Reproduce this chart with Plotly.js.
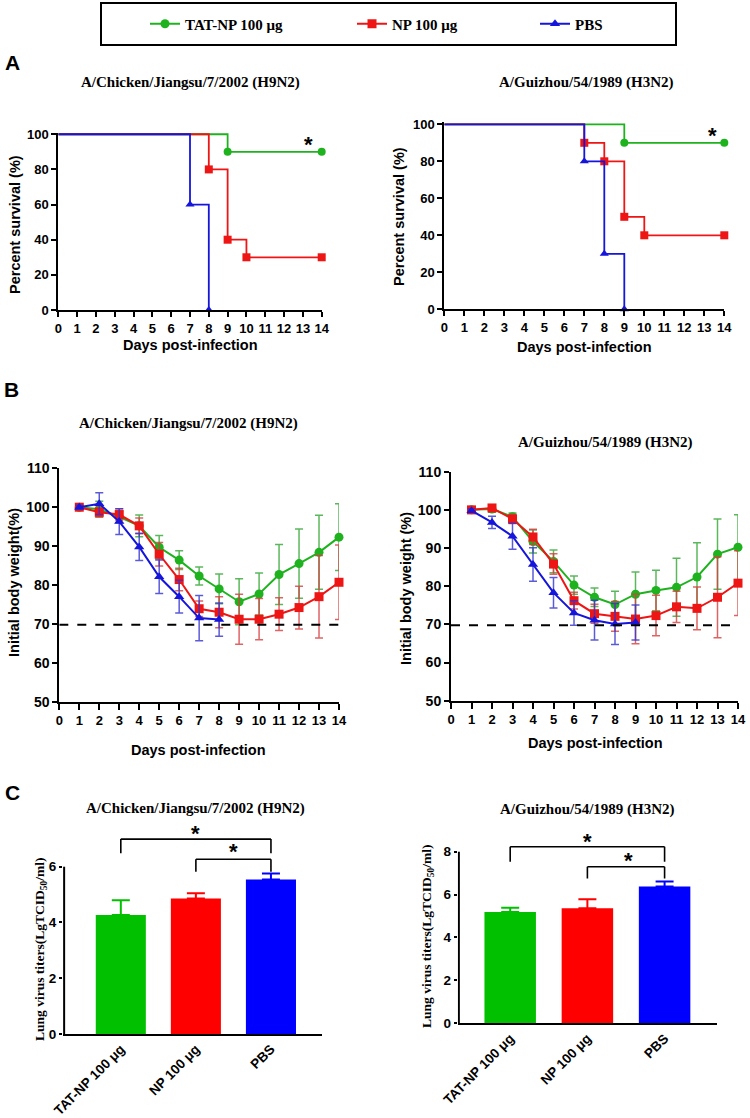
<!DOCTYPE html>
<html>
<head>
<meta charset="utf-8">
<script src="https://cdn.plot.ly/plotly-3.0.1.min.js"></script>
<style>html,body{margin:0;padding:0;background:#fff}</style>
</head>
<body>
<div id="chart" style="width:750px;height:1118px"></div>
<script>
const W = 750, H = 1118;
const px = v => v / W;
const py = v => 1 - v / H;

const groupNames = ['TAT-NP 100 μg', 'NP 100 μg', 'PBS'];
const lineColors = ['#1fb21f', '#ee1515', '#1515dc'];
const errorColors = ['rgba(50,165,50,0.8)', 'rgba(215,60,60,0.8)', 'rgba(50,50,205,0.8)'];
const barColors = ['#00c000', '#ff0000', '#0000ff'];
const symbols = ['circle', 'square', 'triangle-up'];

// Panel A: survival (step points), H9N2
const tatSurvDaysH9 = [0, 9, 14];
const tatSurvH9 = [100, 90, 90];
const npSurvDaysH9 = [0, 8, 9, 10, 14];
const npSurvH9 = [100, 80, 40, 30, 30];
const pbsSurvDaysH9 = [0, 7, 8];
const pbsSurvH9 = [100, 60, 0];

// Panel A: survival, H3N2
const tatSurvDaysH3 = [0, 9, 14];
const tatSurvH3 = [100, 90, 90];
const npSurvDaysH3 = [0, 7, 8, 9, 10, 14];
const npSurvH3 = [100, 90, 80, 50, 40, 40];
const pbsSurvDaysH3 = [0, 7, 8, 9];
const pbsSurvH3 = [100, 80, 30, 0];

// Panel B: body weight (% of initial), mean and SD
const weightDays = [1, 2, 3, 4, 5, 6, 7, 8, 9, 10, 11, 12, 13, 14];
const tatWeightH9 = [100, 99.5, 97.5, 95.2, 89.7, 86.4, 82.3, 79.0, 75.7, 77.7, 82.7, 85.5, 88.4, 92.3];
const tatSdH9 = [0.5, 2.0, 1.5, 2.8, 3.0, 2.4, 2.3, 3.8, 5.9, 5.4, 7.7, 8.9, 9.5, 8.6];
const npWeightH9 = [100, 98.7, 98.1, 95.2, 87.9, 81.4, 73.9, 73.0, 71.2, 71.2, 72.5, 74.2, 77.0, 80.7];
const npSdH9 = [0.5, 1.2, 1.5, 2.0, 3.0, 2.9, 2.0, 4.0, 6.4, 5.3, 4.2, 5.5, 10.6, 9.6];
const pbsWeightH9 = [100, 100.9, 96.3, 89.8, 82.1, 77.0, 71.5, 71.1];
const pbsSdH9 = [0.5, 2.8, 3.3, 3.5, 4.3, 4.2, 5.8, 4.3];

const tatWeightH3 = [100, 100.2, 98.2, 91.7, 86.5, 80.3, 77.1, 75.2, 77.9, 78.9, 79.7, 82.4, 88.4, 90.2];
const tatSdH3 = [0.5, 0.8, 1.0, 3.0, 3.0, 2.4, 2.4, 3.5, 5.8, 5.3, 7.6, 9.0, 9.2, 8.5];
const npWeightH3 = [100, 100.5, 97.6, 92.9, 85.8, 76.2, 72.8, 72.1, 71.4, 72.3, 74.6, 74.2, 77.1, 80.8];
const npSdH3 = [0.5, 0.8, 1.2, 2.0, 2.7, 2.2, 2.5, 3.9, 6.5, 5.3, 4.1, 5.6, 10.6, 8.5];
const pbsWeightH3 = [99.8, 96.7, 93.1, 85.7, 78.3, 73.0, 71.1, 70.1, 70.5];
const pbsSdH3 = [0.5, 1.6, 3.4, 4.4, 4.0, 3.2, 5.2, 5.4, 4.6];

const weightThreshold = 69.8;

// Panel C: lung virus titers
const titerH9 = [4.27, 4.86, 5.54];
const titerSdH9 = [0.53, 0.19, 0.22];
const titerH3 = [5.19, 5.36, 6.38];
const titerSdH3 = [0.20, 0.42, 0.23];

const dayTicks = [0, 1, 2, 3, 4, 5, 6, 7, 8, 9, 10, 11, 12, 13, 14];

function survival(days, vals, g, xa, ya) {
  return [
    {
      x: days, y: vals, xaxis: xa, yaxis: ya, type: 'scatter', mode: 'lines',
      line: { shape: 'hv', color: lineColors[g], width: 1.8 },
      showlegend: false, hoverinfo: 'skip'
    },
    {
      x: days.slice(1), y: vals.slice(1), xaxis: xa, yaxis: ya, type: 'scatter', mode: 'markers',
      marker: { symbol: symbols[g], size: 8, color: lineColors[g] },
      showlegend: false, cliponaxis: false
    }
  ];
}

function weight(vals, sd, g, xa, ya, legendId) {
  const t = {
    x: weightDays.slice(0, vals.length), y: vals, xaxis: xa, yaxis: ya,
    type: 'scatter', mode: 'lines+markers', name: groupNames[g],
    line: { color: lineColors[g], width: 2 },
    marker: { symbol: symbols[g], size: 9, color: lineColors[g] },
    error_y: { type: 'data', array: sd, color: errorColors[g], thickness: 1.5, width: 4 },
    cliponaxis: false, showlegend: !!legendId
  };
  if (legendId) t.legend = legendId;
  return t;
}

function bars(vals, sd, xa, ya) {
  return vals.map((v, i) => ({
    x: [groupNames[i]], y: [v], xaxis: xa, yaxis: ya, type: 'bar', width: 0.667,
    marker: { color: barColors[i], line: { width: 0 } },
    error_y: { type: 'data', symmetric: false, array: [sd[i]], arrayminus: [0], color: barColors[i], thickness: 2, width: 9 },
    showlegend: false
  }));
}

const traces = [
  ...survival(tatSurvDaysH9, tatSurvH9, 0, 'x', 'y'),
  ...survival(npSurvDaysH9, npSurvH9, 1, 'x', 'y'),
  ...survival(pbsSurvDaysH9, pbsSurvH9, 2, 'x', 'y'),
  ...survival(tatSurvDaysH3, tatSurvH3, 0, 'x2', 'y2'),
  ...survival(npSurvDaysH3, npSurvH3, 1, 'x2', 'y2'),
  ...survival(pbsSurvDaysH3, pbsSurvH3, 2, 'x2', 'y2'),
  weight(tatWeightH9, tatSdH9, 0, 'x3', 'y3', 'legend'),
  weight(npWeightH9, npSdH9, 1, 'x3', 'y3', 'legend2'),
  weight(pbsWeightH9, pbsSdH9, 2, 'x3', 'y3', 'legend3'),
  weight(tatWeightH3, tatSdH3, 0, 'x4', 'y4'),
  weight(npWeightH3, npSdH3, 1, 'x4', 'y4'),
  weight(pbsWeightH3, pbsSdH3, 2, 'x4', 'y4'),
  ...bars(titerH9, titerSdH9, 'x5', 'y5'),
  ...bars(titerH3, titerSdH3, 'x6', 'y6')
];

const sans = 'Liberation Sans, Arial, sans-serif';
const serif = 'Liberation Serif, Times New Roman, serif';
const tickFont = { family: sans, size: 13, weight: 'bold', color: '#000' };

function axis(extra) {
  return Object.assign({
    showgrid: false, zeroline: false, showline: true, linecolor: '#000', linewidth: 2,
    ticks: 'outside', ticklen: 5, tickwidth: 2, tickcolor: '#000',
    tickfont: tickFont, fixedrange: true, automargin: false
  }, extra);
}

const bigTick = Object.assign({}, tickFont, { size: 14 });
const barTick = Object.assign({}, tickFont, { size: 13.5 });

function label(text, x, y, font, extra) {
  return Object.assign({
    xref: 'paper', yref: 'paper', x: px(x), y: py(y), text: text, showarrow: false,
    xanchor: 'center', yanchor: 'middle', font: font
  }, extra || {});
}

const letterFont = { family: sans, size: 21, weight: 'bold', color: '#000' };
const titleFont = { family: serif, size: 15, weight: 'bold', color: '#000' };
const axTitleFont = { family: sans, size: 14.5, weight: 'bold', color: '#000' };
const cTitleFont = { family: serif, size: 13.5, weight: 'bold', color: '#000' };
const starFont = { family: sans, size: 22, weight: 'bold', color: '#000' };

const strainH9 = 'A/Chicken/Jiangsu/7/2002 (H9N2)';
const strainH3 = 'A/Guizhou/54/1989 (H3N2)';
const titerTitle = 'Lung virus titers(LgTCID<sub>50</sub>/ml)';

function star(xa, ya, x, y) {
  return { xref: xa, yref: ya, x: x, y: y, text: '*', showarrow: false, font: starFont, yshift: -5 };
}

const annotations = [
  label('A', 12, 62, letterFont),
  label('B', 11, 390, letterFont),
  label('C', 12, 792, letterFont),
  label(strainH9, 190, 82, titleFont),
  label(strainH3, 586, 82, titleFont),
  label(strainH9, 188, 423, titleFont),
  label(strainH3, 605, 442, titleFont),
  label(strainH9, 196, 808, titleFont),
  label(strainH3, 587, 809, titleFont),
  label('Days post-infection', 190, 345, axTitleFont),
  label('Days post-infection', 584, 347, axTitleFont),
  label('Days post-infection', 198, 750, axTitleFont),
  label('Days post-infection', 595, 743, axTitleFont),
  label('Percent survival (%)', 15, 225, axTitleFont, { textangle: -90 }),
  label('Percent survival (%)', 399, 217, axTitleFont, { textangle: -90 }),
  label('Initial body weight(%)', 14, 583, axTitleFont, { textangle: -90 }),
  label('Initial body weight (%)', 406, 589, axTitleFont, { textangle: -90 }),
  label(titerTitle, 40, 950, cTitleFont, { textangle: -90 }),
  label(titerTitle, 427, 937, cTitleFont, { textangle: -90 }),
  star('x', 'y', 13.3, 96.8),
  star('x2', 'y2', 13.4, 96.9),
  star('x5', 'y5', 1.0, 7.37),
  star('x5', 'y5', 1.5, 6.71),
  star('x6', 'y6', 1.0, 8.73),
  star('x6', 'y6', 1.53, 7.8)
];

function seg(xa, ya, x0, y0, x1, y1) {
  return { type: 'line', xref: xa, yref: ya, x0: x0, y0: y0, x1: x1, y1: y1, line: { color: '#000', width: 1.6 } };
}
function bracket(xa, ya, a, b, top, legA, legB) {
  return [seg(xa, ya, a, legA, a, top), seg(xa, ya, a, top, b, top), seg(xa, ya, b, top, b, legB)];
}

const shapes = [
  { type: 'rect', xref: 'paper', yref: 'paper', x0: px(101), x1: px(676), y0: py(45), y1: py(3), line: { color: '#000', width: 2 } },
  { type: 'line', xref: 'x3', yref: 'y3', x0: 0, x1: 14, y0: weightThreshold, y1: weightThreshold, line: { color: '#000', width: 2, dash: 'dash' } },
  { type: 'line', xref: 'x4', yref: 'y4', x0: 0, x1: 14, y0: weightThreshold, y1: weightThreshold, line: { color: '#000', width: 2, dash: 'dash' } },
  { type: 'line', xref: 'x5', yref: 'y5', x0: -0.755, x1: -0.755, y0: 0, y1: 6, line: { color: '#000', width: 2 } },
  { type: 'line', xref: 'x6', yref: 'y6', x0: -0.665, x1: -0.665, y0: 0, y1: 8, line: { color: '#000', width: 2 } },
  ...bracket('x5', 'y5', 0, 2, 6.99, 6.48, 6.48),
  ...bracket('x5', 'y5', 1, 2, 6.27, 5.82, 5.82),
  ...bracket('x6', 'y6', 0, 2, 8.23, 7.53, 7.53),
  ...bracket('x6', 'y6', 1, 2, 7.30, 6.75, 6.75)
];

const legendFont = { family: serif, size: 15, weight: 'bold', color: '#000' };
function legendAt(xc) {
  return { x: px(xc - 18), y: py(24), xanchor: 'left', yanchor: 'middle', orientation: 'h',
    font: legendFont, bgcolor: 'rgba(0,0,0,0)', borderwidth: 0, itemwidth: 30 };
}

const layout = {
  width: W, height: H,
  margin: { l: 0, r: 0, t: 0, b: 0 },
  paper_bgcolor: '#fff', plot_bgcolor: '#fff',
  barmode: 'overlay',
  xaxis: axis({ domain: [px(58.3), px(321.7)], range: [0, 14], tickvals: dayTicks, anchor: 'y' }),
  yaxis: axis({ domain: [py(310), py(132.5)], range: [0, 101], tickvals: [0, 20, 40, 60, 80, 100], anchor: 'x' }),
  xaxis2: axis({ domain: [px(444.3), px(724.3)], range: [0, 14], tickvals: dayTicks, anchor: 'y2' }),
  yaxis2: axis({ domain: [py(309.3), py(122.45)], range: [0, 101], tickvals: [0, 20, 40, 60, 80, 100], anchor: 'x2' }),
  xaxis3: axis({ domain: [px(59.3), px(339)], range: [0, 14], tickvals: dayTicks, anchor: 'y3', ticklen: 6 }),
  yaxis3: axis({ domain: [py(701.7), py(468.3)], range: [50, 110], dtick: 10, anchor: 'x3', tickfont: bigTick }),
  xaxis4: axis({ domain: [px(451), px(738)], range: [0, 14], tickvals: dayTicks, anchor: 'y4', ticklen: 6 }),
  yaxis4: axis({ domain: [py(700.7), py(471.7)], range: [50, 110], dtick: 10, anchor: 'x4', tickfont: bigTick }),
  xaxis5: axis({ domain: [px(63), px(322)], range: [-0.77, 2.68], type: 'category', ticks: '', tickangle: -45, anchor: 'y5', tickfont: barTick }),
  yaxis5: axis({ domain: [py(1034), py(822.1)], range: [0, 7.6], tickvals: [0, 2, 4, 6], showline: false, ticklen: 3, anchor: 'x5', tickfont: barTick }),
  xaxis6: axis({ domain: [px(457.7), px(716.7)], range: [-0.68, 2.675], type: 'category', ticks: '', tickangle: -45, anchor: 'y6', tickfont: barTick }),
  yaxis6: axis({ domain: [py(1023.3), py(834.5)], range: [0, 8.8], tickvals: [0, 2, 4, 6, 8], showline: false, ticklen: 3, anchor: 'x6', tickfont: barTick }),
  legend: legendAt(163),
  legend2: legendAt(370),
  legend3: legendAt(553),
  annotations: annotations,
  shapes: shapes
};

Plotly.newPlot('chart', traces, layout, { displayModeBar: false, staticPlot: true });
</script>
</body>
</html>
